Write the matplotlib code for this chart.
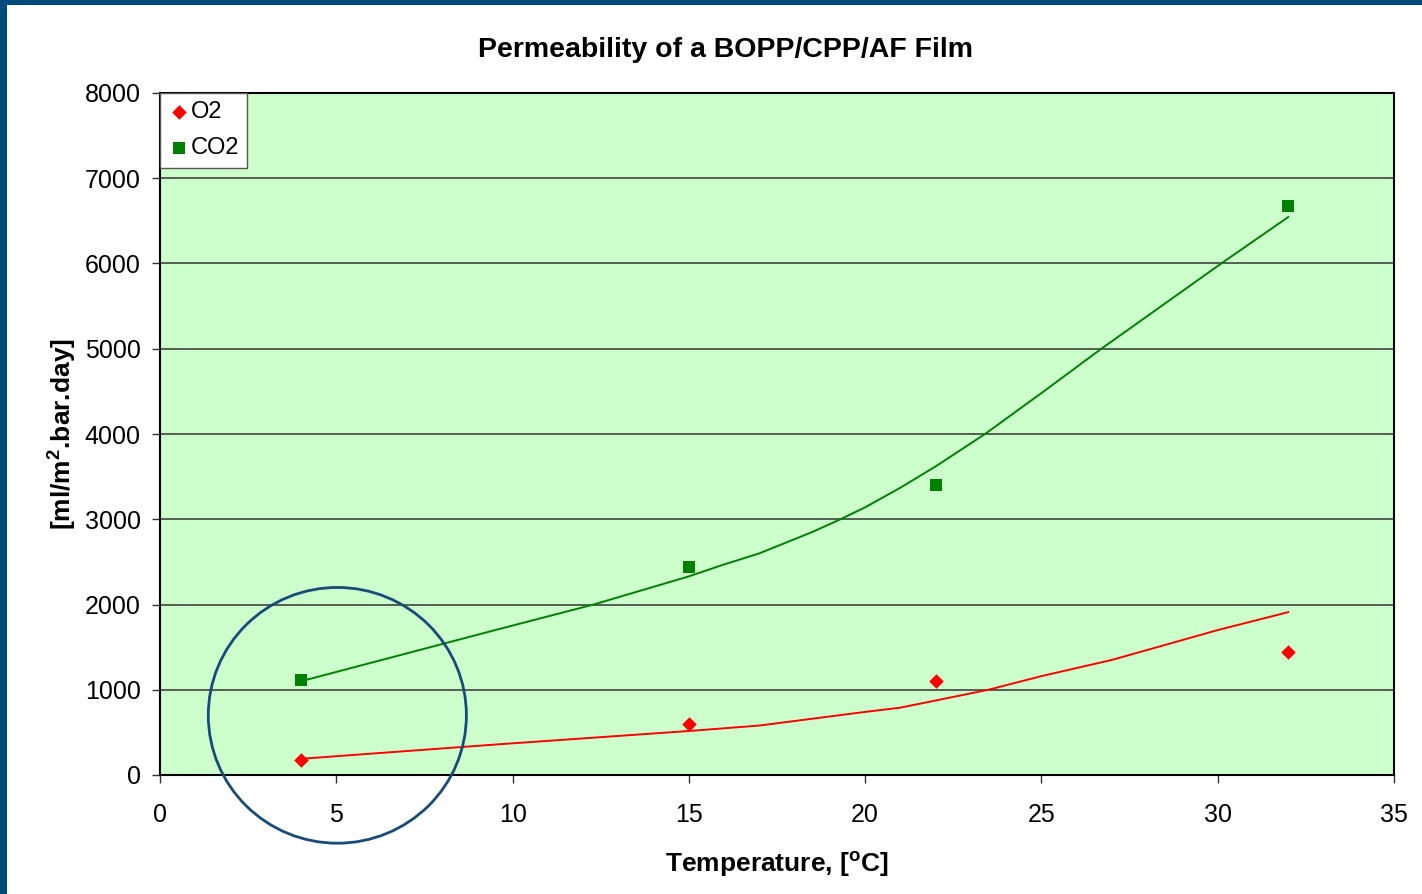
from matplotlib import pyplot as plt
from matplotlib.patches import Ellipse, Rectangle

# Measured points
temps = [4, 15, 22, 32]
o2_values = [180, 600, 1100, 1440]
co2_values = [1120, 2440, 3400, 6680]

# Trend lines
o2_trend_x = [4, 9.6, 15, 17, 20, 21, 23.5, 25, 27, 30, 32]
o2_trend_y = [190, 360, 516, 580, 740, 790, 1000, 1160, 1350, 1700, 1910]
co2_trend_x = [4, 9.6, 12.3, 15, 16, 17, 18.5, 19.3, 20, 21, 22, 23.4, 25, 26.7, 28.4, 30.1, 32]
co2_trend_y = [1100, 1710, 2000, 2330, 2470, 2600, 2850, 3000, 3140, 3370, 3620, 4000, 4480, 5000, 5500, 6000, 6545]

x_ticks = [0, 5, 10, 15, 20, 25, 30, 35]
y_ticks = [0, 1000, 2000, 3000, 4000, 5000, 6000, 7000, 8000]


def main():
    plt.rcParams["font.family"] = ["Liberation Sans", "DejaVu Sans"]

    fig = plt.figure(figsize=(14.22, 8.94), dpi=100)
    fig.patch.set_facecolor("white")
    ax = fig.add_axes([160 / 1422, 1 - 775 / 894, (1394 - 160) / 1422, (775 - 93) / 894])
    ax.set_facecolor("#CCFFCC")

    # Horizontal gridlines
    for y in y_ticks[1:-1]:
        ax.axhline(y, color="#333333", lw=1.1, zorder=1)

    # Trend lines
    ax.plot(o2_trend_x, o2_trend_y, color="red", lw=1.4, zorder=2)
    ax.plot(co2_trend_x, co2_trend_y, color="green", lw=1.4, zorder=2)

    # Data points
    ax.scatter(temps, o2_values, marker="D", s=55, c="red", linewidths=0, zorder=3, label="O2")
    ax.scatter(temps, co2_values, marker="s", s=80, c="green", linewidths=0, zorder=3, label="CO2")

    # Highlight circle around the first point
    ax.add_patch(Ellipse((5.03, 700), width=7.32, height=3000, fill=False,
                         edgecolor="#174B7A", lw=2, clip_on=False, zorder=4))

    ax.set_xlim(0, 35)
    ax.set_ylim(0, 8000)
    ax.set_xticks(x_ticks)
    ax.set_yticks(y_ticks)
    ax.tick_params(labelsize=18, length=6, width=1, color="#333333", direction="out")
    ax.tick_params(axis="x", pad=14)
    ax.tick_params(axis="y", pad=8)
    for sp in ax.spines.values():
        sp.set_color("black")
        sp.set_linewidth(1.5)

    ax.set_xlabel("Temperature, [$^{\\mathregular{o}}$C]", fontsize=19, fontweight="bold", labelpad=16)
    ax.set_ylabel("[ml/m$^{\\mathregular{2}}$.bar.day]", fontsize=19, fontweight="bold", labelpad=5)
    fig.text(726 / 1422, 1 - 50 / 894, "Permeability of a BOPP/CPP/AF Film",
             ha="center", va="center", fontsize=20.5, fontweight="bold")

    leg = ax.legend(loc="upper left", borderaxespad=0, fancybox=False, framealpha=1,
                    edgecolor="#555555", fontsize=17, handletextpad=0.05, handlelength=0.9,
                    labelspacing=0.6, borderpad=0.35)
    leg.get_frame().set_linewidth(1)

    # Blue frame on the top and left edges
    fig.patches.append(Rectangle((0, 0), 7 / 1422, 1, transform=fig.transFigure,
                                 facecolor="#004B7B", edgecolor="none"))
    fig.patches.append(Rectangle((0, 1 - 5 / 894), 1, 5 / 894, transform=fig.transFigure,
                                 facecolor="#004B7B", edgecolor="none"))

    fig.savefig("out.png", dpi=100)


if __name__ == "__main__":
    main()
